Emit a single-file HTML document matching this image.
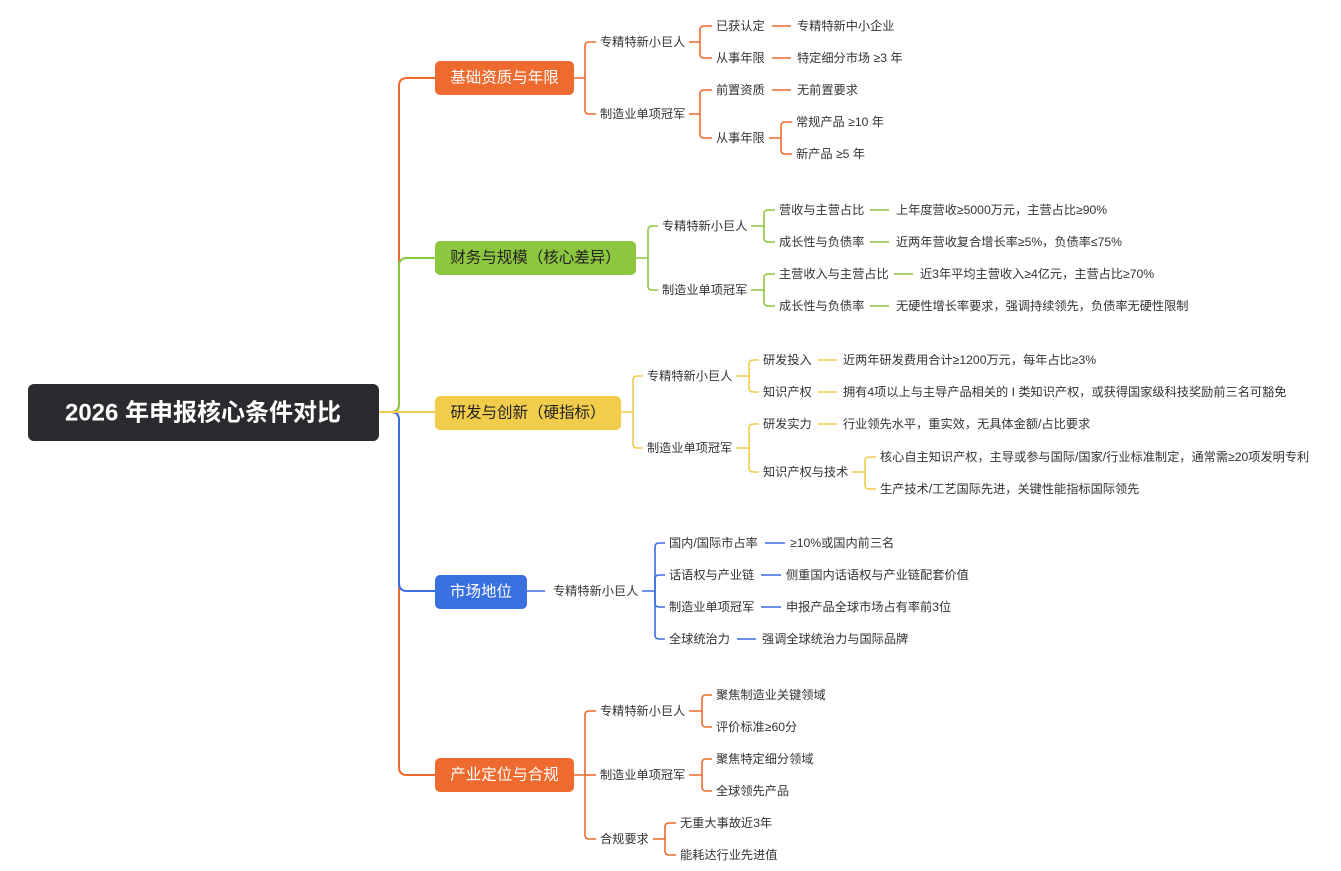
<!DOCTYPE html>
<html><head><meta charset="utf-8"><style>
html,body{margin:0;padding:0;background:#fff;}
svg{display:block;font-family:"Liberation Sans","Noto Sans CJK SC",sans-serif;}
.t{font-size:12.2px;fill:#333;dominant-baseline:central;}
.b{font-size:15.5px;dominant-baseline:central;text-anchor:middle;}
</style></head><body>
<svg width="1341" height="871" viewBox="0 0 1341 871" xmlns="http://www.w3.org/2000/svg">
<g fill="none" stroke-width="2" stroke-linecap="round">
<path stroke="#EE6A2F" d="M379,412 H391 Q399,412 399,404 V86 Q399,78 407,78 H435"/>
<path stroke="#EE6A2F" d="M379,412 H391 Q399,412 399,420 V767 Q399,775 407,775 H435"/>
<path stroke="#8DC63F" d="M379,412 H391 Q399,412 399,404 V266 Q399,258 407,258 H435"/>
<path stroke="#3A6FE0" d="M379,412 H391 Q399,412 399,420 V583 Q399,591 407,591 H435"/>
<path stroke="#F2CC4B" d="M379,412 H435"/>
</g>
<g fill="none" stroke-width="1.6" stroke="#EE6A2F">
<path d="M574,78 H585 V46 Q585,42 589,42 H596"/><path d="M585,78 V110 Q585,114 589,114 H596"/>
<path d="M689,42 H700 V30 Q700,26 704,26 H712"/><path d="M700,42 V54 Q700,58 704,58 H712"/>
<path d="M772,26 H791 M772,58 H791 M772,90 H791"/>
<path d="M689,114 H700 V94 Q700,90 704,90 H712"/><path d="M700,114 V134 Q700,138 704,138 H712"/>
<path d="M769,138 H781 V126 Q781,122 785,122 H792"/><path d="M781,138 V150 Q781,154 785,154 H792"/>
<path d="M574,775 H585 V715 Q585,711 589,711 H596"/><path d="M585,775 H596"/><path d="M585,775 V835 Q585,839 589,839 H596"/>
<path d="M689,711 H702 V699 Q702,695 706,695 H712"/><path d="M702,711 V723 Q702,727 706,727 H712"/>
<path d="M689,775 H702 V763 Q702,759 706,759 H712"/><path d="M702,775 V787 Q702,791 706,791 H712"/>
<path d="M653,839 H665 V827 Q665,823 669,823 H676"/><path d="M665,839 V851 Q665,855 669,855 H676"/>
</g>
<g fill="none" stroke-width="1.6" stroke="#8DC63F">
<path d="M636,258 H648 V230 Q648,226 652,226 H658"/><path d="M648,258 V286 Q648,290 652,290 H658"/>
<path d="M751,226 H764 V214 Q764,210 768,210 H775"/><path d="M764,226 V238 Q764,242 768,242 H775"/>
<path d="M751,290 H764 V278 Q764,274 768,274 H775"/><path d="M764,290 V302 Q764,306 768,306 H775"/>
<path d="M870,210 H889 M870,242 H889 M894,274 H913 M870,306 H889"/>
</g>
<g fill="none" stroke-width="1.6" stroke="#F2CC4B">
<path d="M621,412 H633 V380 Q633,376 637,376 H643"/><path d="M633,412 V444 Q633,448 637,448 H643"/>
<path d="M736,376 H749 V364 Q749,360 753,360 H759"/><path d="M749,376 V388 Q749,392 753,392 H759"/>
<path d="M736,448 H749 V428 Q749,424 753,424 H759"/><path d="M749,448 V468 Q749,472 753,472 H759"/>
<path d="M818,360 H837 M818,392 H837 M818,424 H837"/>
<path d="M852,472 H865 V461 Q865,457 869,457 H876"/><path d="M865,472 V485 Q865,489 869,489 H876"/>
</g>
<g fill="none" stroke-width="1.6" stroke="#3A6FE0">
<path d="M527,591 H545"/>
<path d="M642,591 H655 V547 Q655,543 659,543 H665"/><path d="M655,591 V579 Q655,575 659,575 H665"/>
<path d="M655,591 V603 Q655,607 659,607 H665"/><path d="M655,591 V635 Q655,639 659,639 H665"/>
<path d="M765,543 H785 M761,575 H781 M761,607 H781 M737,639 H756"/>
</g>
<rect x="28" y="384" width="351" height="57" rx="6" fill="#2A2B2E"/>
<text x="203" y="413" font-size="24" font-weight="bold" fill="#fff" text-anchor="middle" dominant-baseline="central">2026 年申报核心条件对比</text>
<rect x="435" y="61" width="139" height="34" rx="5" fill="#EE6A2F"/><text class="b" x="504.5" y="78" fill="#fff">基础资质与年限</text>
<rect x="435" y="241" width="201" height="34" rx="5" fill="#8DC63F"/><text class="b" x="535.5" y="258" fill="#222">财务与规模（核心差异）</text>
<rect x="435" y="396" width="186" height="34" rx="5" fill="#F2CC4B"/><text class="b" x="528" y="413" fill="#222">研发与创新（硬指标）</text>
<rect x="435" y="575" width="92" height="34" rx="5" fill="#3A6FE0"/><text class="b" x="481" y="592" fill="#fff">市场地位</text>
<rect x="435" y="758" width="139" height="34" rx="5" fill="#EE6A2F"/><text class="b" x="504.5" y="775" fill="#fff">产业定位与合规</text>
<text class="t" x="600" y="42">专精特新小巨人</text>
<text class="t" x="716" y="26">已获认定</text><text class="t" x="797" y="26">专精特新中小企业</text>
<text class="t" x="716" y="58">从事年限</text><text class="t" x="797" y="58">特定细分市场 ≥3 年</text>
<text class="t" x="600" y="114">制造业单项冠军</text>
<text class="t" x="716" y="90">前置资质</text><text class="t" x="797" y="90">无前置要求</text>
<text class="t" x="716" y="138">从事年限</text>
<text class="t" x="796" y="122">常规产品 ≥10 年</text><text class="t" x="796" y="154">新产品 ≥5 年</text>
<text class="t" x="662" y="226">专精特新小巨人</text>
<text class="t" x="779" y="210">营收与主营占比</text><text class="t" x="896" y="210">上年度营收≥5000万元，主营占比≥90%</text>
<text class="t" x="779" y="242">成长性与负债率</text><text class="t" x="896" y="242">近两年营收复合增长率≥5%，负债率≤75%</text>
<text class="t" x="662" y="290">制造业单项冠军</text>
<text class="t" x="779" y="274">主营收入与主营占比</text><text class="t" x="920" y="274">近3年平均主营收入≥4亿元，主营占比≥70%</text>
<text class="t" x="779" y="306">成长性与负债率</text><text class="t" x="896" y="306">无硬性增长率要求，强调持续领先，负债率无硬性限制</text>
<text class="t" x="647" y="376">专精特新小巨人</text>
<text class="t" x="763" y="360">研发投入</text><text class="t" x="843" y="360">近两年研发费用合计≥1200万元，每年占比≥3%</text>
<text class="t" x="763" y="392">知识产权</text><text class="t" x="843" y="392">拥有4项以上与主导产品相关的 I 类知识产权，或获得国家级科技奖励前三名可豁免</text>
<text class="t" x="647" y="448">制造业单项冠军</text>
<text class="t" x="763" y="424">研发实力</text><text class="t" x="843" y="424">行业领先水平，重实效，无具体金额/占比要求</text>
<text class="t" x="763" y="472">知识产权与技术</text>
<text class="t" x="880" y="457">核心自主知识产权，主导或参与国际/国家/行业标准制定，通常需≥20项发明专利</text>
<text class="t" x="880" y="489">生产技术/工艺国际先进，关键性能指标国际领先</text>
<text class="t" x="553" y="591">专精特新小巨人</text>
<text class="t" x="669" y="543">国内/国际市占率</text><text class="t" x="790" y="543">≥10%或国内前三名</text>
<text class="t" x="669" y="575">话语权与产业链</text><text class="t" x="786" y="575">侧重国内话语权与产业链配套价值</text>
<text class="t" x="669" y="607">制造业单项冠军</text><text class="t" x="786" y="607">申报产品全球市场占有率前3位</text>
<text class="t" x="669" y="639">全球统治力</text><text class="t" x="762" y="639">强调全球统治力与国际品牌</text>
<text class="t" x="600" y="711">专精特新小巨人</text>
<text class="t" x="716" y="695">聚焦制造业关键领域</text><text class="t" x="716" y="727">评价标准≥60分</text>
<text class="t" x="600" y="775">制造业单项冠军</text>
<text class="t" x="716" y="759">聚焦特定细分领域</text><text class="t" x="716" y="791">全球领先产品</text>
<text class="t" x="600" y="839">合规要求</text>
<text class="t" x="680" y="823">无重大事故近3年</text><text class="t" x="680" y="855">能耗达行业先进值</text>
</svg>
</body></html>
